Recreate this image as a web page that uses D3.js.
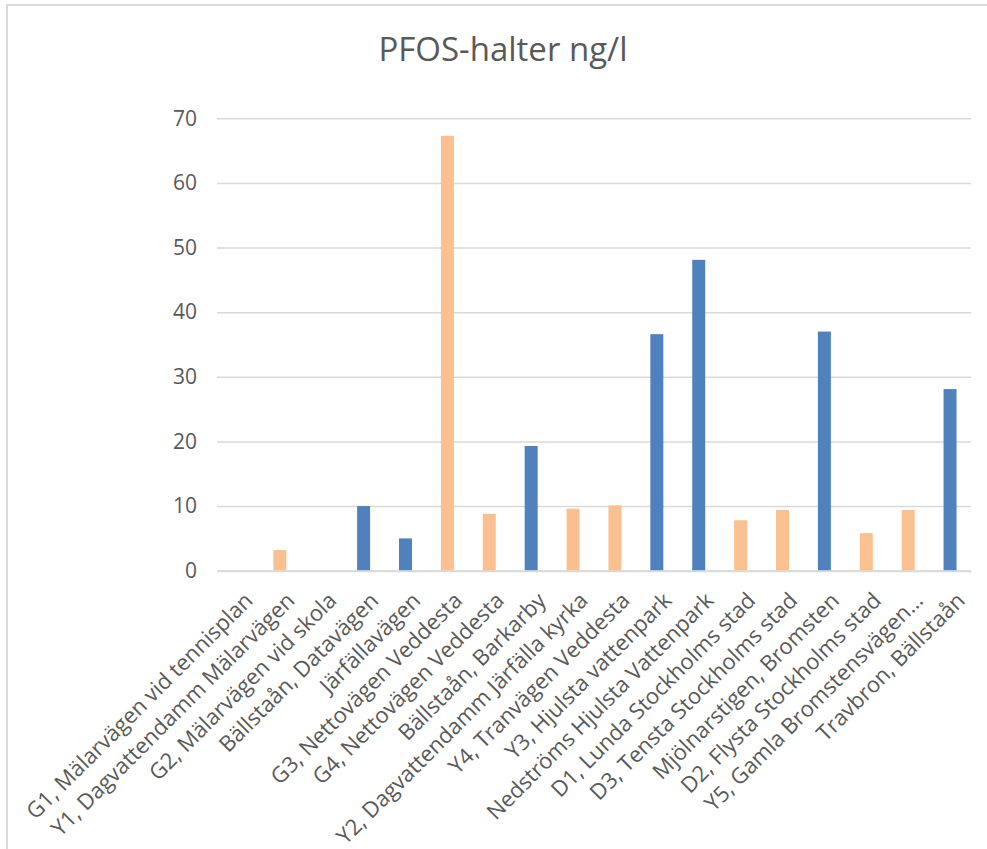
<!DOCTYPE html>
<html>
<head>
<meta charset="utf-8">
<script src="https://cdn.jsdelivr.net/npm/d3@7/dist/d3.min.js"></script>
<style>
  html, body { margin: 0; padding: 0; background: #ffffff; }
  svg { display: block; }
  text { font-family: "Open Sans", "Noto Sans", sans-serif; fill: #595959; }
</style>
</head>
<body>
<svg id="chart" width="987" height="849"></svg>
<script>
// Sampling sites along the x axis
const categories = [
  "G1, Mälarvägen vid tennisplan",
  "Y1, Dagvattendamm Mälarvägen",
  "G2, Mälarvägen vid skola",
  "Bällstaån, Datavägen",
  "Järfällavägen",
  "G3, Nettovägen Veddesta",
  "G4, Nettovägen Veddesta",
  "Bällstaån, Barkarby",
  "Y2, Dagvattendamm Järfälla kyrka",
  "Y4, Tranvägen Veddesta",
  "Y3, Hjulsta vattenpark",
  "Nedströms Hjulsta Vattenpark",
  "D1, Lunda Stockholms stad",
  "D3, Tensta Stockholms stad",
  "Mjölnarstigen, Bromsten",
  "D2, Flysta Stockholms stad",
  "Y5, Gamla Bromstensvägen…",
  "Travbron, Bällstaån"
];

// PFOS concentrations (ng/l), blue series
const seriesA = [null, null, null, 10.0, 5.0, null, null, 19.3, null, null, 36.6, 48.1, null, null, 37.0, null, null, 28.1];
// PFOS concentrations (ng/l), orange series
const seriesB = [null, 3.2, null, null, null, 67.3, 8.8, null, 9.6, 10.1, null, null, 7.8, 9.4, null, 5.8, 9.4, null];

const yTicks = [0, 10, 20, 30, 40, 50, 60, 70];
const titleText = "PFOS-halter ng/l";

const svg = d3.select("#chart");

// Chart frame
svg.append("rect")
  .attr("x", 7).attr("y", 5)
  .attr("width", 1100).attr("height", 1000)
  .attr("fill", "#ffffff")
  .attr("stroke", "#d9d9d9")
  .attr("stroke-width", 2);

const plot = { left: 217, right: 971, top: 118.3, bottom: 570.7 };

const x = d3.scaleBand()
  .domain(categories)
  .range([plot.left, plot.right])
  .padding(0);

const y = d3.scaleLinear()
  .domain([0, 70])
  .range([plot.bottom, plot.top]);

// Title
svg.append("text")
  .attr("x", 503)
  .attr("y", 61)
  .attr("text-anchor", "middle")
  .style("font-size", "33px")
  .text(titleText);

// Horizontal gridlines + y labels
const yAxis = d3.axisLeft(y)
  .tickValues(yTicks)
  .tickSize(-(plot.right - plot.left))
  .tickPadding(20)
  .tickFormat(d3.format("d"));

const gy = svg.append("g")
  .attr("transform", `translate(${plot.left},0)`)
  .call(yAxis);
gy.select(".domain").remove();
gy.selectAll(".tick line")
  .attr("stroke", "#d9d9d9")
  .attr("stroke-width", 1.5);
gy.selectAll(".tick text")
  .style("font-size", "21px")
  .style("fill", "#595959")
  .attr("font-family", null);

// Bars
const barW = x.bandwidth() * 0.31;
const rows = categories.map((c, i) => ({ c, a: seriesA[i], b: seriesB[i] }));

svg.append("g").selectAll("rect")
  .data(rows.filter(d => d.a != null))
  .join("rect")
  .attr("x", d => x(d.c) + (x.bandwidth() - barW) / 2)
  .attr("y", d => y(d.a))
  .attr("width", barW)
  .attr("height", d => y(0) - y(d.a))
  .attr("fill", "#4f81bd");

svg.append("g").selectAll("rect")
  .data(rows.filter(d => d.b != null))
  .join("rect")
  .attr("x", d => x(d.c) + (x.bandwidth() - barW) / 2)
  .attr("y", d => y(d.b))
  .attr("width", barW)
  .attr("height", d => y(0) - y(d.b))
  .attr("fill", "#fac090");

// Category axis
const xAxis = d3.axisBottom(x).tickSize(0).tickPadding(0);
const gx = svg.append("g")
  .attr("transform", `translate(0,${plot.bottom})`)
  .call(xAxis);
gx.select(".domain")
  .attr("stroke", "#d9d9d9")
  .attr("stroke-width", 2);
gx.selectAll(".tick text")
  .attr("font-family", null)
  .style("font-size", "22px")
  .style("fill", "#595959")
  .attr("text-anchor", "end")
  .attr("dy", "0.72em")
  .attr("y", 0)
  .attr("transform", "translate(5,20) rotate(-45)");
</script>
</body>
</html>
